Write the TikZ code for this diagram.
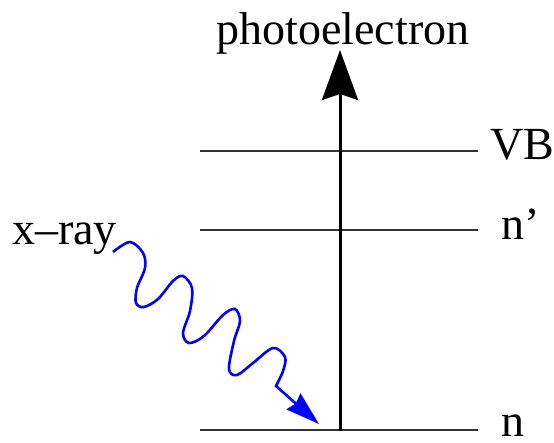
\documentclass[tikz,border=0pt]{standalone}
\usepackage{fontspec}
\setmainfont{Liberation Serif}
\usetikzlibrary{arrows.meta}
\begin{document}
\begin{tikzpicture}[x=1pt,y=-1pt,
  level/.style={line width=2.8pt, draw=black!80},
  lbl/.style={anchor=base west, inner sep=0pt, font=\fontsize{46}{50}\selectfont},
  photon/.style={draw=blue, line width=2.6pt},
  shaft/.style={line width=3pt, -{Stealth[length=50pt,width=36pt,inset=6pt]}}]
\useasboundingbox (0,0) rectangle (554,443);
% energy levels
\coordinate (vbL) at (200,151); \coordinate (vbR) at (478,151);
\coordinate (npL) at (200,230); \coordinate (npR) at (478,230);
\coordinate (nL) at (200,430);  \coordinate (nR) at (478,430);
\draw[level] (vbL) -- (vbR);
\draw[level] (npL) -- (npR);
\draw[level] (nL) -- (nR);
% labels
\node[lbl] (vb) at (490,160) {VB};
\node[lbl] (np) at (501,240) {n'};
\node[lbl] (n) at (501,436) {n};
\node[lbl] (xray) at (12,245) {x--ray};
\node[lbl, anchor=base] (pe) at (343,45) {photoelectron};
% photoelectron arrow
\coordinate (start) at (340,431);
\coordinate (tip) at (340,50);
\draw[shaft] (start) -- (tip);
% x-ray photon
\coordinate (w0) at (113,252);
\coordinate (wend) at (319,424);
\draw[photon, -{Stealth[length=34pt,width=21pt,inset=3pt]}]
  plot[smooth, tension=0.55] coordinates {(w0) (130,242) (143,253) (145,268) (137,288) (136,303) (144,307) (158,299) (173,281) (183,276) (192,288) (190,311) (183,333) (189,343) (204,336) (223,315) (235,309) (240,321) (234,341) (229,369) (237,375) (253,363) (273,348) (285,357) (283,371) (276,386)} -- (wend);
\end{tikzpicture}
\end{document}
